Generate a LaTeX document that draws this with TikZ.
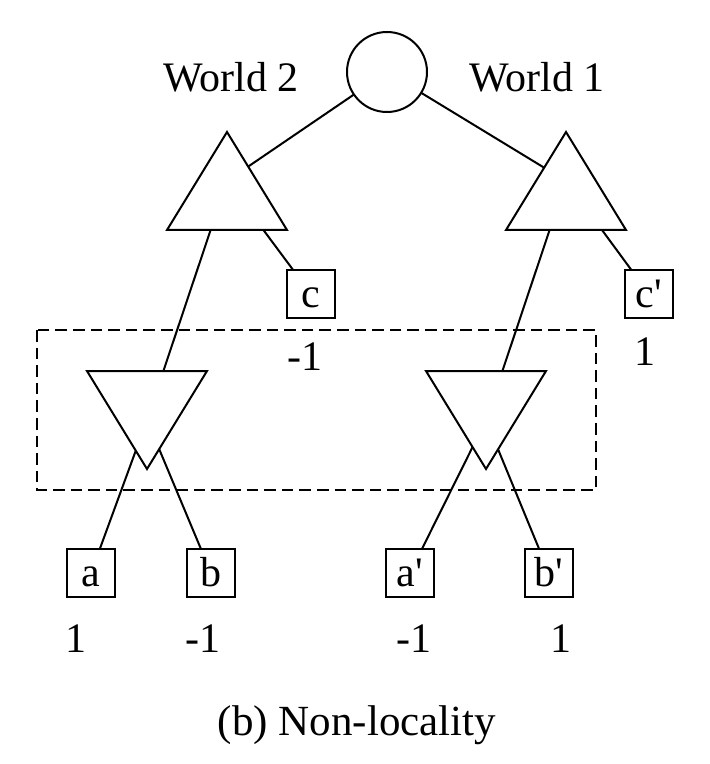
\documentclass[tikz,border=0pt]{standalone}
\usepackage{fontspec}
\setmainfont{Liberation Serif}
\usepackage{xcolor}
\usepackage{tikz}
\usetikzlibrary{backgrounds}
\definecolor{ink}{HTML}{000000}
\definecolor{paper}{HTML}{FFFFFF}
\newcommand{\lbl}{\fontsize{21}{25}\selectfont}
\tikzset{
  edge/.style={draw=ink, line width=1pt, line cap=round},
  chance/.style={circle, draw=ink, fill=paper, line width=1pt, minimum size=40pt, inner sep=0pt},
  slot/.style={minimum width=60pt, minimum height=49pt, inner sep=0pt, outer sep=0pt},
  tri/.style={draw=ink, fill=paper, line width=1pt, line join=miter},
  leaf/.style={
    draw=ink,
    fill=paper,
    line width=1pt,
    minimum size=24pt,
    inner sep=0pt,
    text height=15pt,
    text depth=2pt,
    font=\lbl
  },
  val/.style={font=\lbl, text=ink, inner sep=0pt, anchor=base},
  infoset/.style={draw=ink, line width=1pt, dash pattern=on 5.8pt off 3pt}
}

\begin{document}
\begin{tikzpicture}[x=0.5pt, y=-0.5pt]
  \useasboundingbox (0,0) rectangle (710,764);

  \node[chance] (root) at (387,72) {};
  \node[val] at (231,92) {World 2};
  \node[val] at (537,92) {World 1};

  % max nodes
  \node[slot] (L) at (227,181) {};
  \node[slot] (R) at (566,181) {};
  \draw[tri] (L.south west) -- (L.south east) -- (L.north) -- cycle;
  \draw[tri] (R.south west) -- (R.south east) -- (R.north) -- cycle;

  \node[leaf] (c)  at (311,294) {c};
  \node[leaf] (cp) at (649,294) {c\textquotesingle};
  \node[val] at (305,370) {-1};
  \node[val] at (645,365) {1};

  % min nodes
  \node[slot] (Lm) at (147,420) {};
  \node[slot] (Rm) at (486,420) {};
  \draw[tri] (Lm.north west) -- (Lm.north east) -- (Lm.south) -- cycle;
  \draw[tri] (Rm.north west) -- (Rm.north east) -- (Rm.south) -- cycle;

  \draw[infoset] (37,330) rectangle (596,490);

  \node[leaf] (a)  at (91,573)  {a};
  \node[leaf] (b)  at (211,573) {b};
  \node[leaf] (ap) at (410,573) {a\textquotesingle};
  \node[leaf] (bp) at (549,573) {b\textquotesingle};
  \node[val] at (76,652)  {1};
  \node[val] at (203,652) {-1};
  \node[val] at (414,652) {-1};
  \node[val] at (561,652) {1};

  \begin{scope}[on background layer]
    \draw[edge] (root.center) -- (L.center);
    \draw[edge] (root.center) -- (R.center);
    \draw[edge] (L.center) -- (Lm.center);
    \draw[edge] (L.center) -- (c.center);
    \draw[edge] (R.center) -- (Rm.center);
    \draw[edge] (R.center) -- (cp.center);
    \draw[edge] (Lm.center) -- (a.center);
    \draw[edge] (Lm.center) -- (b.center);
    \draw[edge] (Rm.center) -- (ap.center);
    \draw[edge] (Rm.center) -- (bp.center);
  \end{scope}

  \node[val, font=\fontsize{21.5}{26}\selectfont] at (357,735) {(b) Non-locality};
\end{tikzpicture}
\end{document}
